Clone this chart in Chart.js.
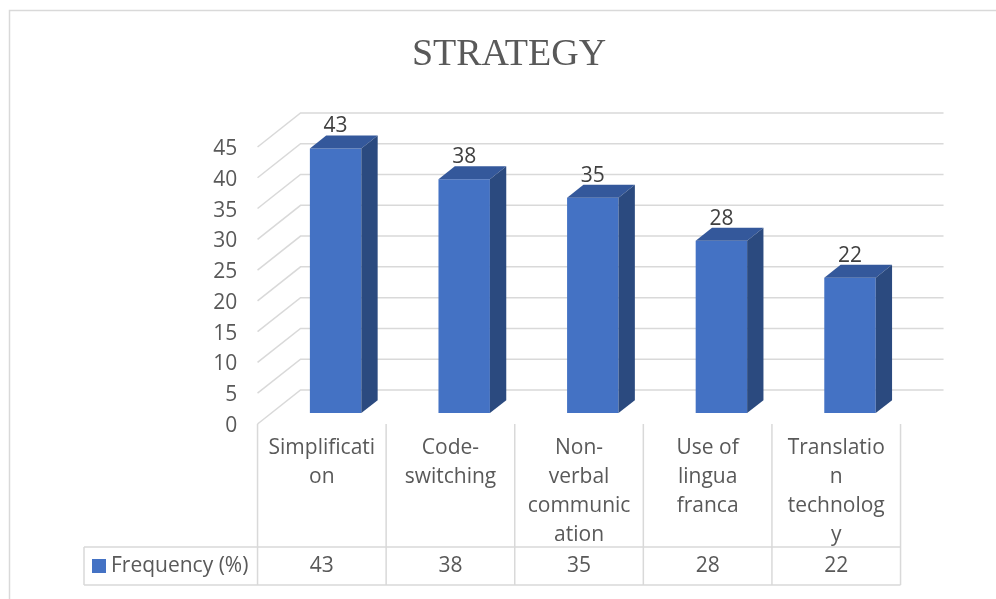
<!DOCTYPE html>
<html>
<head>
<meta charset="utf-8">
<script src="https://cdn.jsdelivr.net/npm/chart.js@4/dist/chart.umd.min.js"></script>
<style>
  html, body { margin: 0; padding: 0; background: #fff; }
  #wrap { width: 996px; height: 599px; }
</style>
</head>
<body>
<div id="wrap"><canvas id="chart" width="996" height="599"></canvas></div>
<script>
// category labels, wrapped the same way as in the picture
const categories = [
    ["Simplificati", "on"],
    ["Code-", "switching"],
    ["Non-", "verbal", "communic", "ation"],
    ["Use of", "lingua", "franca"],
    ["Translatio", "n", "technolog", "y"]
];
const frequency = [43, 38, 35, 28, 22];
const seriesName = "Frequency (%)";
const yMin = 0, yMax = 45, yStep = 5;

const TEXT = "#595959";
const LINE = "#D9D9D9";
const FONT = "'Open Sans', sans-serif";

// 3d depth of the floor, and where the bars sit inside it
const DX = 43, DY = 34;
const F1 = 0.32, F2 = 0.70;

const pseudo3d = {
    id: "pseudo3d",
    beforeDraw(chart) {
        const ctx = chart.ctx;
        ctx.save();
        ctx.fillStyle = "#fff";
        ctx.fillRect(0, 0, chart.width, chart.height);
        ctx.strokeStyle = LINE;
        ctx.lineWidth = 1.5;
        ctx.strokeRect(9.5, 10.5, chart.width + 20, chart.height + 20);
        ctx.restore();
    },
    beforeDatasetsDraw(chart) {
        const ctx = chart.ctx, y = chart.scales.y, area = chart.chartArea;
        const fx0 = area.left - F1 * DX;
        const fx1 = area.right - F1 * DX;
        ctx.save();
        ctx.strokeStyle = LINE;
        ctx.lineWidth = 1.5;
        for (let v = yMin; v <= yMax; v += yStep) {
            const fy = y.getPixelForValue(v) + F1 * DY;
            ctx.beginPath();
            ctx.moveTo(fx0, fy);
            ctx.lineTo(fx0 + DX, fy - DY);
            ctx.lineTo(fx1 + DX, fy - DY);
            ctx.stroke();
        }
        ctx.restore();
    },
    afterDatasetsDraw(chart) {
        const ctx = chart.ctx, meta = chart.getDatasetMeta(0);
        const bdx = (F2 - F1) * DX, bdy = (F2 - F1) * DY;
        ctx.save();
        meta.data.forEach((bar, i) => {
            const x0 = bar.x - bar.width / 2, x1 = bar.x + bar.width / 2;
            const yt = bar.y, yb = bar.base;
            ctx.fillStyle = "#34589B";
            ctx.beginPath();
            ctx.moveTo(x0, yt);
            ctx.lineTo(x1, yt);
            ctx.lineTo(x1 + bdx, yt - bdy);
            ctx.lineTo(x0 + bdx, yt - bdy);
            ctx.closePath();
            ctx.fill();
            ctx.fillStyle = "#2B4A7F";
            ctx.beginPath();
            ctx.moveTo(x1, yt);
            ctx.lineTo(x1 + bdx, yt - bdy);
            ctx.lineTo(x1 + bdx, yb - bdy);
            ctx.lineTo(x1, yb);
            ctx.closePath();
            ctx.fill();

            ctx.fillStyle = "#404040";
            ctx.font = "21px " + FONT;
            ctx.textAlign = "center";
            ctx.textBaseline = "middle";
            ctx.fillText(String(frequency[i]), bar.x, yt - 22);
        });
        ctx.restore();
    },
    afterDraw(chart) {
        // data table under the plot
        const ctx = chart.ctx, area = chart.chartArea;
        const catW = (area.right - area.left) / categories.length;
        const fx0 = area.left - F1 * DX;
        const top = area.bottom + F1 * DY;
        const rowTop = 547, rowBot = 585, legLeft = 84;
        ctx.save();
        ctx.strokeStyle = LINE;
        ctx.lineWidth = 1.5;
        ctx.beginPath();
        for (let i = 0; i <= categories.length; i++) {
            const x = fx0 + i * catW;
            ctx.moveTo(x, top);
            ctx.lineTo(x, rowBot);
        }
        ctx.moveTo(legLeft, rowTop);
        ctx.lineTo(fx0 + categories.length * catW, rowTop);
        ctx.moveTo(legLeft, rowBot);
        ctx.lineTo(fx0 + categories.length * catW, rowBot);
        ctx.moveTo(legLeft, rowTop);
        ctx.lineTo(legLeft, rowBot);
        ctx.stroke();

        const midY = (rowTop + rowBot) / 2;
        ctx.fillStyle = TEXT;
        ctx.font = "21px " + FONT;
        ctx.textAlign = "center";
        ctx.textBaseline = "middle";
        frequency.forEach((v, i) => {
            ctx.fillText(String(v), fx0 + (i + 0.5) * catW, midY);
        });
        ctx.fillStyle = "#4472C4";
        ctx.fillRect(92, midY - 7, 14, 14);
        ctx.fillStyle = TEXT;
        ctx.textAlign = "left";
        ctx.fillText(seriesName, 111, midY);
        ctx.restore();
    }
};

new Chart(document.getElementById("chart"), {
    type: "bar",
    data: {
        labels: categories,
        datasets: [{
            label: seriesName,
            data: frequency,
            backgroundColor: "#4472C4",
            borderWidth: 0,
            barPercentage: 0.4,
            categoryPercentage: 1
        }]
    },
    options: {
        responsive: false,
        animation: false,
        layout: { padding: { left: 22, right: 0, top: 0, bottom: 0 } },
        plugins: {
            legend: { display: false },
            tooltip: { enabled: false },
            title: {
                display: true,
                text: "STRATEGY",
                color: TEXT,
                font: { family: "'Liberation Serif', serif", size: 38, weight: "normal", lineHeight: 1.2 },
                padding: { top: 32, bottom: 58.5 }
            }
        },
        scales: {
            x: {
                grid: { display: false, drawTicks: false },
                border: { display: false },
                ticks: {
                    color: TEXT,
                    font: { family: FONT, size: 21, lineHeight: 1.38 },
                    padding: 20,
                    labelOffset: -F1 * DX,
                    maxRotation: 0,
                    autoSkip: false
                },
                afterFit(scale) { scale.height = 185.9; }
            },
            y: {
                min: yMin,
                max: yMax,
                grid: { display: false, drawTicks: false },
                border: { display: false },
                ticks: {
                    stepSize: yStep,
                    color: TEXT,
                    font: { family: FONT, size: 21 },
                    padding: 34,
                    labelOffset: F1 * DY + 2
                },
                afterFit(scale) { scale.width = 249.3; }
            },
            // empty right axis, only reserves the space right of the plot
            yRight: {
                position: "right",
                min: yMin,
                max: yMax,
                grid: { display: false, drawTicks: false },
                border: { display: false },
                ticks: { display: false },
                afterFit(scale) { scale.width = 81.7; }
            }
        }
    },
    plugins: [pseudo3d]
});
</script>
</body>
</html>
